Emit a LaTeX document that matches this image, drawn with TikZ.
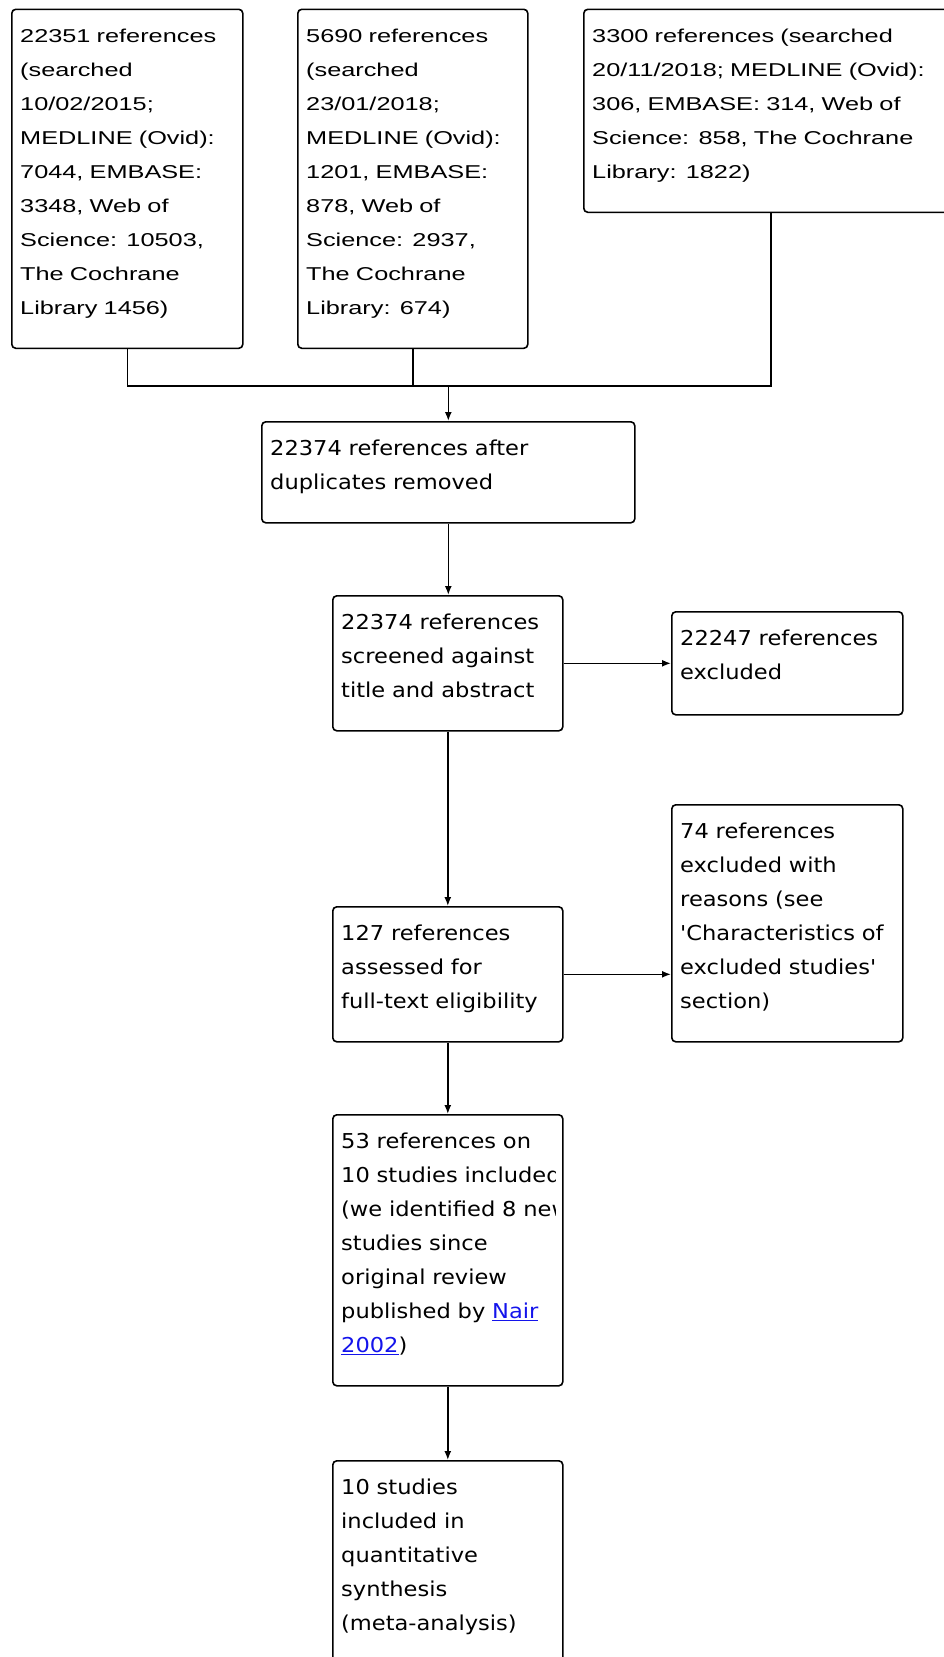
\documentclass[tikz,border=0pt]{standalone}
\usepackage{fontspec}
\setmainfont{DejaVu Sans}[FakeStretch=1.10, Ligatures=TeXOff]
\newfontfamily\searchfont{Liberation Sans}[FakeStretch=1.36]
\usetikzlibrary{arrows.meta}
\definecolor{linkblue}{RGB}{20,20,235}
\tikzstyle{flowbox}=[draw, rounded corners=4pt, line width=1.6pt, anchor=north west, inner sep=0pt]
\tikzstyle{flowtext}=[anchor=north west, inner sep=0pt, text width=420pt, align=left, font=\fontsize{20.5}{34}\selectfont]
\tikzstyle{searchtext}=[font=\searchfont\fontsize{18.6}{34}\selectfont]
\tikzstyle{flowline}=[line width=1.6pt]
\tikzstyle{flowarrow}=[-{Latex[length=9pt,width=7pt]}, line width=1.6pt]
\newcommand{\flowbox}[7][]{% [text style] name, x, y, width, height, text
  \node[flowbox, minimum width=#5pt, minimum height=#6pt] (#2) at (#3,#4) {};
  \begin{scope}
    \clip (#2.north west) rectangle ([xshift=-8pt]#2.south east); % text is cut at the right margin
    \node[flowtext, #1] (#2text) at ([xshift=9pt, yshift=-10pt]#2.north west) {\rule{0pt}{24pt}#7};
  \end{scope}
}
\newcommand{\link}[1]{\textcolor{linkblue}{\underline{#1}}}

\begin{document}
\begin{tikzpicture}[x=1pt, y=-1pt]
  \useasboundingbox (0,0) rectangle (944,1657);
  % searches
  \flowbox[searchtext]{s1}{11}{8.5}{231}{339}{22351 references\\(searched\\10/02/2015;\\MEDLINE (Ovid):\\7044, EMBASE:\\3348, Web of\\Science: 10503,\\The Cochrane\\Library 1456)}
  \flowbox[searchtext]{s2}{297}{8.5}{230}{339}{5690 references\\(searched\\23/01/2018;\\MEDLINE (Ovid):\\1201, EMBASE:\\878, Web of\\Science: 2937,\\The Cochrane\\Library: 674)}
  \flowbox[searchtext]{s3}{583}{8.5}{374}{203}{3300 references (searched\\20/11/2018; MEDLINE (Ovid):\\306, EMBASE: 314, Web of\\Science: 858, The Cochrane\\Library: 1822)}
  % screening
  \flowbox{b4}{261}{421}{373}{101}{22374 references after\\duplicates removed}
  \flowbox{b5}{332}{595}{230}{135}{22374 references\\screened against\\title and abstract}
  \flowbox{b6}{671}{611}{231}{103}{22247 references\\excluded}
  \flowbox{b7}{332}{906}{230}{135}{127 references\\assessed for\\full-text eligibility}
  \flowbox{b8}{671}{804}{231}{237}{74 references\\excluded with\\reasons (see\\'Characteristics of\\excluded studies'\\section)}
  \flowbox{b9}{332}{1114}{230}{271}{53 references on\\10 studies included\\(we identified 8 new\\studies since\\original review\\published by \link{Nair}\\\link{2002})}
  \flowbox{b10}{332}{1460}{230}{260}{10 studies\\included in\\quantitative\\synthesis\\(meta-analysis)}
  % connectors
  \path (b4.north) ++(0,-35) coordinate (join);
  \draw[flowline] (s1.south) |- (join) -| (s3.south);
  \draw[flowline] (s2.south) -- (s2.south |- join);
  \draw[flowarrow] (join) -- (b4.north);
  \draw[flowarrow] (b4.south) -- (b4.south |- b5.north);
  \draw[flowarrow] (b5.east) -- (b5.east -| b6.west);
  \draw[flowarrow] (b5.south) -- (b7.north);
  \draw[flowarrow] (b7.east) -- (b7.east -| b8.west);
  \draw[flowarrow] (b7.south) -- (b9.north);
  \draw[flowarrow] (b9.south) -- (b10.north);
\end{tikzpicture}
\end{document}
